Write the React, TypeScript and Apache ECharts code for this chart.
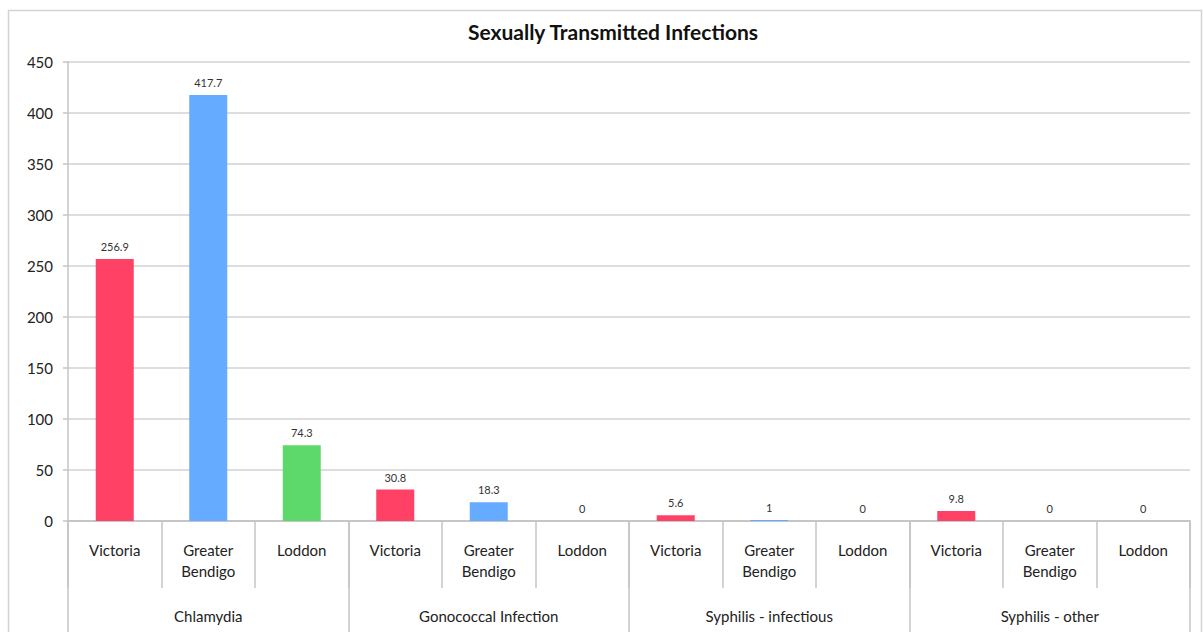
import React, { useEffect, useRef } from "react";
import * as echarts from "echarts";

const regions = ["Victoria", "Greater\nBendigo", "Loddon"];
const infections = ["Chlamydia", "Gonococcal Infection", "Syphilis - infectious", "Syphilis - other"];
const values = [256.9, 417.7, 74.3, 30.8, 18.3, 0, 5.6, 1, 0, 9.8, 0, 0];
const regionColors = ["#ff4166", "#65abff", "#5dd96c"];
const yTicks = [0, 50, 100, 150, 200, 250, 300, 350, 400, 450];

export default function App() {
  const ref = useRef<HTMLDivElement>(null);
  useEffect(() => {
    const chart = echarts.init(ref.current!, undefined, { renderer: "svg" });
    const cats: string[] = [];
    infections.forEach(() => regions.forEach((r) => cats.push(r)));
    const font = "Lato, 'Open Sans', sans-serif";
    const gray = "#c4c4c4";
    chart.setOption({
      animation: false,
      title: {
        text: "Sexually Transmitted Infections",
        left: 608,
        top: 16,
        textAlign: "center",
        textStyle: { fontFamily: font, fontSize: 21, fontWeight: "bold", color: "#111" },
      },
      graphic: [
        {
          type: "rect",
          shape: { x: 8.5, y: 10.5, width: 1193, height: 640 },
          style: { fill: "none", stroke: "#d4d4d4", lineWidth: 1.5 },
          silent: true,
        },
      ],
      grid: { left: 68, right: 13, top: 62, bottom: 111, containLabel: false },
      xAxis: [
        {
          type: "category",
          data: cats,
          position: "bottom",
          offset: 0,
          axisLine: { show: true, lineStyle: { color: gray, width: 1.5 } },
          axisTick: { show: true, interval: 0, length: 67, lineStyle: { color: gray, width: 1.5 } },
          axisLabel: {
            interval: 0,
            margin: 18,
            fontFamily: font,
            fontSize: 15,
            lineHeight: 21,
            color: "#222",
          },
          splitLine: { show: false },
        },
        {
          type: "category",
          data: infections,
          position: "bottom",
          offset: 0,
          axisLine: { show: true, lineStyle: { color: gray, width: 1.5 } },
          axisTick: { show: true, interval: 0, length: 115, lineStyle: { color: gray, width: 1.5 } },
          axisLabel: {
            interval: 0,
            margin: 87,
            fontFamily: font,
            fontSize: 15,
            color: "#222",
          },
          splitLine: { show: false },
        },
      ],
      yAxis: {
        type: "value",
        min: yTicks[0],
        max: yTicks[yTicks.length - 1],
        interval: 50,
        axisLine: { show: true, lineStyle: { color: gray, width: 1.5 } },
        axisTick: { show: true, length: 5, lineStyle: { color: gray, width: 1.5 } },
        axisLabel: { fontFamily: font, fontSize: 15, color: "#222", margin: 15 },
        splitLine: { show: true, lineStyle: { color: "#d2d2d2", width: 1.5 } },
      },
      series: [
        {
          type: "bar",
          xAxisIndex: 0,
          barWidth: 38,
          data: values.map((v, i) => ({
            value: v,
            itemStyle: { color: regionColors[i % 3] },
          })),
          label: {
            show: true,
            position: "top",
            distance: 7,
            fontFamily: font,
            fontSize: 11,
            color: "#333",
          },
        },
      ],
    });
    return () => chart.dispose();
  }, []);
  return (
    <div
      ref={ref}
      style={{ position: "fixed", left: 0, top: 0, width: 1203, height: 632, background: "#fff" }}
    />
  );
}
